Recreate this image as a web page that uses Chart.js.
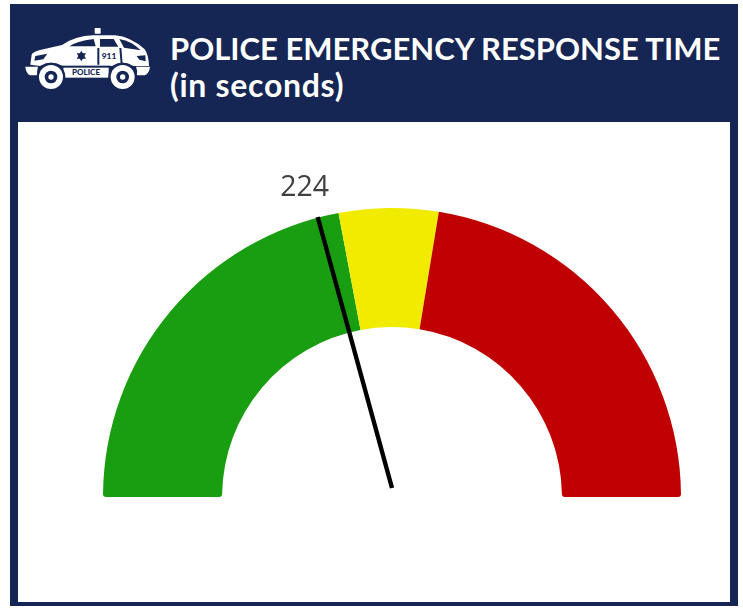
<!DOCTYPE html>
<html>
<head>
<meta charset="utf-8">
<title>Police Emergency Response Time</title>
<script src="https://cdn.jsdelivr.net/npm/chart.js@4"></script>
<style>
  html, body { margin: 0; padding: 0; background: #fff; }
  body { width: 743px; height: 608px; position: relative; overflow: hidden; }
  .frame { position: absolute; left: 10px; top: 4px; width: 728px; height: 602px; background: #152554; }
  .panel { position: absolute; left: 18px; top: 122px; width: 712px; height: 480px; background: #fff; }
  .title { position: absolute; left: 170px; color: #fff; font-family: Lato, sans-serif; font-weight: 700; white-space: nowrap; }
  #line1 { top: 28px; font-size: 31px; line-height: 40px; }
  #line2 { top: 65px; font-size: 32px; line-height: 40px; letter-spacing: 0.7px; }
  svg.car { position: absolute; left: 20px; top: 22px; }
</style>
</head>
<body>
<div class="frame"></div>
<svg class="car" width="135" height="74" viewBox="0 0 405 222">
  <rect x="224" y="18" width="18" height="17" rx="2" fill="#fff"/>
  <path d="M31 128 L35 98 Q38 90 60 84 L126 69 Q165 42 220 40 L285 40 Q332 44 374 82 Q386 98 387 132 L340 132 Q308 112 276 132 L128 132 Q93 112 60 132 Z" fill="#fff"/>
  <path d="M16 134 H54 Q50 146 52 160 H30 Q18 154 16 134 Z" fill="#fff"/>
  <path d="M348 134 H390 Q388 154 374 160 H350 Q354 146 348 134 Z" fill="#fff"/>
  <path d="M148 73 Q168 58 221 51 L227 73 Z" fill="#152554"/>
  <path d="M240 51 H281 L295 74 H240 Z" fill="#152554"/>
  <path d="M298 51 Q335 57 362 85 L312 77 Z" fill="#152554"/>
  <path d="M232 78 V128 H238 V78 Z M298 78 L302 126 H308 L304 78 Z" fill="#152554"/>
  <path d="M46 102 L82 95 L70 112 L43 116 Z" fill="#152554"/>
  <path d="M350 102 L376 100 L377 118 L358 113 Z" fill="#152554"/>
  <path d="M184 86 L198 110 H170 Z" fill="#152554"/>
  <path d="M184 118 L170 94 H198 Z" fill="#152554"/>
  <text x="267" y="112" text-anchor="middle" font-family="Lato, sans-serif" font-weight="900" font-size="25" fill="#152554">911</text>
  <rect x="124" y="131" width="148" height="39" fill="#152554"/>
  <rect x="130" y="137" width="136" height="30" fill="#fff"/>
  <text x="198" y="160" text-anchor="middle" font-family="Lato, sans-serif" font-weight="900" font-size="24" fill="#152554">POLICE</text>
  <circle cx="93" cy="165" r="43" fill="#152554"/>
  <circle cx="93" cy="165" r="36" fill="#fff"/>
  <circle cx="93" cy="165" r="19" fill="#152554"/>
  <circle cx="93" cy="165" r="8" fill="#fff"/>
  <circle cx="308" cy="165" r="43" fill="#152554"/>
  <circle cx="308" cy="165" r="36" fill="#fff"/>
  <circle cx="308" cy="165" r="19" fill="#152554"/>
  <circle cx="308" cy="165" r="8" fill="#fff"/>
</svg>
<div class="title" id="line1">POLICE EMERGENCY RESPONSE TIME</div>
<div class="title" id="line2">(in seconds)</div>
<div class="panel"><canvas id="gauge" width="712" height="480"></canvas></div>

<script>
const zoneLabels = ["Good", "Caution", "Slow"];
const zoneValues = [238, 60, 242];
const zoneColors = ["#199e11", "#f1eb00", "#c00000"];
const needleValue = 224;

// needle + value label, angle comes from the value on the gauge range
const needlePlugin = {
  id: "needle",
  afterDatasetsDraw(chart) {
    const arc = chart.getDatasetMeta(0).data[0];
    const total = zoneValues.reduce((a, b) => a + b, 0);
    const angle = Math.PI + (needleValue / total) * Math.PI;
    const baseX = arc.x;
    const baseY = arc.y - 9; // pivot sits a bit above the flat edge
    const len = arc.outerRadius - 8;
    const tipX = baseX + Math.cos(angle) * len;
    const tipY = baseY + Math.sin(angle) * len;
    const ctx = chart.ctx;
    ctx.save();
    ctx.strokeStyle = "#000";
    ctx.lineWidth = 4.4;
    ctx.beginPath();
    ctx.moveTo(baseX, baseY);
    ctx.lineTo(tipX, tipY);
    ctx.stroke();
    ctx.fillStyle = "#404040";
    ctx.font = '28.5px "Open Sans"';
    ctx.textAlign = "center";
    ctx.textBaseline = "alphabetic";
    ctx.fillText(String(needleValue), tipX - 13, tipY - 21);
    ctx.restore();
  }
};

new Chart(document.getElementById("gauge"), {
  type: "doughnut",
  data: {
    labels: zoneLabels,
    datasets: [{
      data: zoneValues,
      backgroundColor: zoneColors,
      borderWidth: 0,
      borderRadius: (c) => {
        if (c.dataIndex === 0) return { outerStart: 3, innerStart: 3, outerEnd: 0, innerEnd: 0 };
        if (c.dataIndex === 2) return { outerStart: 0, innerStart: 0, outerEnd: 3, innerEnd: 3 };
        return 0;
      }
    }]
  },
  options: {
    responsive: false,
    animation: false,
    rotation: -90,
    circumference: 180,
    cutout: "58.8%",
    layout: { padding: { left: 85, right: 49, top: 86, bottom: 105 } },
    plugins: { legend: { display: false }, tooltip: { enabled: false } }
  },
  plugins: [needlePlugin]
});
</script>
</body>
</html>
